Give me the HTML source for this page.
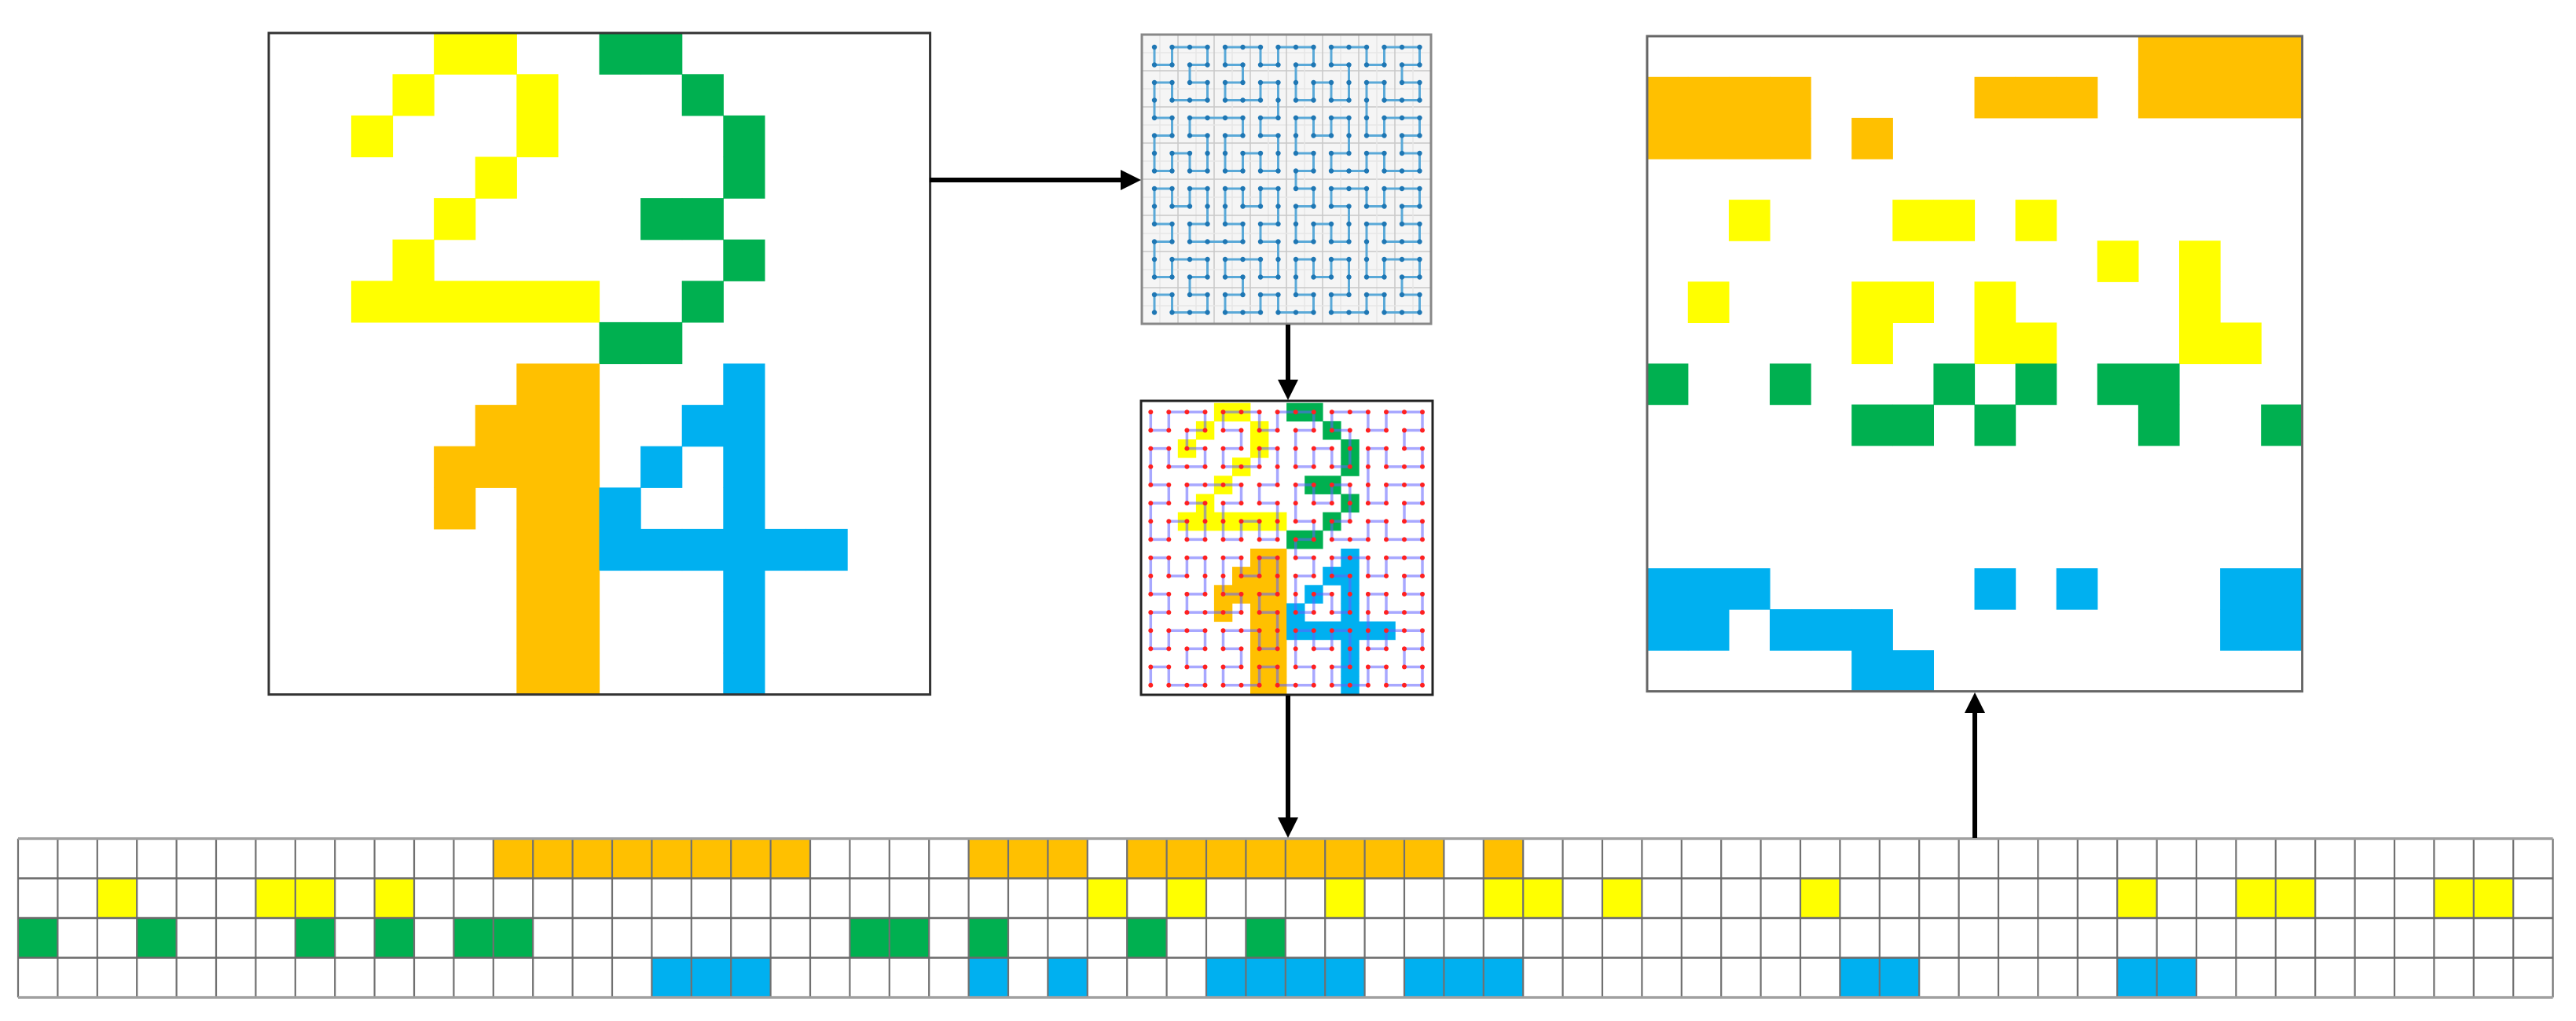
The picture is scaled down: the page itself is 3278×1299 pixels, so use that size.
<!DOCTYPE html>
<html><head><meta charset="utf-8"><style>html,body{margin:0;padding:0;background:#fff;}svg{display:block;}</style></head>
<body>
<svg id="s" xmlns="http://www.w3.org/2000/svg" width="3278" height="1299" viewBox="0 0 3278 1299">
<rect width="3278" height="1299" fill="#fff"/>
<g id="g"></g>
</svg>
<script>
var C={Y:'#ffff00',G:'#00b050',O:'#ffc000',B:'#00b0f0'};
var h='';
function R(x,y,w,h2,f,extra){h+='<rect x="'+x.toFixed(1)+'" y="'+y.toFixed(1)+'" width="'+w.toFixed(1)+'" height="'+h2.toFixed(1)+'" fill="'+f+'" '+(extra||'')+'/>';}
function L(x1,y1,x2,y2,c,w,extra){h+='<line x1="'+x1.toFixed(1)+'" y1="'+y1.toFixed(1)+'" x2="'+x2.toFixed(1)+'" y2="'+y2.toFixed(1)+'" stroke="'+c+'" stroke-width="'+w+'" '+(extra||'')+'/>';}
var left=["....YY..GG......","...Y..Y...G.....","..Y...Y....G....",".....Y.....G....","....Y....GG.....","...Y.......G....","..YYYYYY..G.....","........GG......","......OO...B....",".....OOO..BB....","....OOOO.B.B....","....O.OOB..B....","......OOBBBBBB..","......OO...B....","......OO...B....","......OO...B...."];
var right=["............OOOO","OOOO....OOO.OOOO","OOOO.O..........","................","..Y...YY.Y......","...........Y.Y..",".Y...YY.Y....Y..",".....Y..YY...YY.","G..G...G.G.GG...",".....GG.G...G..G","................","................","................","BBB.....B.B...BB","BB.BBB........BB",".....BB........."];
function grid(arr,x0,y0,cs){for(var r=0;r<16;r++)for(var c=0;c<16;c++){var k=arr[r][c];if(k!='.')R(x0+c*cs-0.3,y0+r*cs-0.3,cs+0.6,cs+0.6,C[k]);}}
grid(left,342,42,52.6);
h+='<rect x="342" y="42" width="841.6" height="841.6" fill="none" stroke="#333" stroke-width="3"/>';
grid(right,2096,46,52.1);
h+='<rect x="2096" y="46" width="833.6" height="833.6" fill="none" stroke="#666" stroke-width="3"/>';
function d2xy(n,d){var x=0,y=0,t=d;for(var s=1;s<n;s*=2){var rx=1&(t>>1),ry=1&(t^rx);if(ry==0){if(rx==1){x=s-1-x;y=s-1-y;}var tt=x;x=y;y=tt;}x+=s*rx;y+=s*ry;t=t>>2;}return [y,15-x];}
var pts=[];for(var d=0;d<256;d++)pts.push(d2xy(16,d));
var tx=1453,ty=44,tw=368;
R(tx,ty,tw,tw,'#f5f5f5');
for(var i=1;i<16;i++){var p=tx+i*tw/16,q=ty+i*tw/16;var col=(i%2==0)?'#c8c8c8':'#e6e6e6';L(p,ty,p,ty+tw,col,1.5);L(tx,q,tx+tw,q,col,1.5);}
var px=function(i){return 1469+i*22.5;},py=function(j){return 60+j*22.5;};
var pd='';for(var d=0;d<256;d++){pd+=(d?'L':'M')+px(pts[d][0]).toFixed(1)+' '+py(pts[d][1]).toFixed(1);}
h+='<path d="'+pd+'" fill="none" stroke="#5aa9d8" stroke-width="3"/>';
for(var d=0;d<256;d++)h+='<circle cx="'+px(pts[d][0]).toFixed(1)+'" cy="'+py(pts[d][1]).toFixed(1)+'" r="3.2" fill="#1f77b4"/>';
h+='<rect x="'+tx+'" y="'+ty+'" width="'+tw+'" height="'+tw+'" fill="none" stroke="#888" stroke-width="3"/>';
var sx=1452,sy=510,sw=371;
var qx=function(i){return 1464.3+i*23.05;},qy=function(j){return 524.3+j*23.16;};
for(var r=0;r<16;r++)for(var c=0;c<16;c++){var k=left[r][c];if(k!='.')R(qx(c)-11.6,qy(r)-11.6,23.4,23.6,C[k]);}
var pd2='';for(var d=0;d<256;d++){pd2+=(d?'L':'M')+qx(pts[d][0]).toFixed(1)+' '+qy(pts[d][1]).toFixed(1);}
h+='<path d="'+pd2+'" fill="none" stroke="#6060ff" stroke-opacity="0.55" stroke-width="3.5"/>';
for(var d=0;d<256;d++)h+='<circle cx="'+qx(pts[d][0]).toFixed(1)+'" cy="'+qy(pts[d][1]).toFixed(1)+'" r="3" fill="#ff2020"/>';
h+='<rect x="'+sx+'" y="'+sy+'" width="'+sw+'" height="'+(884-510)+'" fill="none" stroke="#222" stroke-width="3"/>';
var rows=[[12,13,14,15,16,17,18,19,24,25,26,28,29,30,31,32,33,34,35,37],[2,6,7,9,27,29,33,37,38,40,45,53,56,57,61,62],[0,3,7,9,11,12,21,22,24,28,31],[16,17,18,24,26,30,31,32,33,35,36,37,46,47,53,54]];
var rc=['O','Y','G','B'];
var bx=23,by=1067,bw=50.4,bh=50.5;
for(var r=0;r<4;r++)rows[r].forEach(function(c){R(bx+c*bw,by+r*bh,bw,bh,C[rc[r]]);});
for(var i=0;i<=64;i++){var x=bx+i*bw;L(x,by,x,by+4*bh,'#707070',2.2);}
for(var j=0;j<=4;j++){var y=by+j*bh;L(bx,y,bx+64*bw,y,(j==0||j==4)?'#a0a0a0':'#6a6a6a',(j==0||j==4)?3.5:2.5);}
function arrowH(x1,x2,y){L(x1,y,x2-20,y,'#000',6);h+='<polygon points="'+x2+','+y+' '+(x2-26)+','+(y-13)+' '+(x2-26)+','+(y+13)+'" fill="#000"/>';}
function arrowV(x,y1,y2){var dir=y2>y1?1:-1;L(x,y1,x,y2-dir*20,'#000',6);h+='<polygon points="'+x+','+y2+' '+(x-13)+','+(y2-dir*26)+' '+(x+13)+','+(y2-dir*26)+'" fill="#000"/>';}
arrowH(1183,1452,229);
arrowV(1639,413,509);
arrowV(1639,885,1066);
arrowV(2513,1066,881);
document.getElementById('g').innerHTML=h;
</script>
</body></html>
